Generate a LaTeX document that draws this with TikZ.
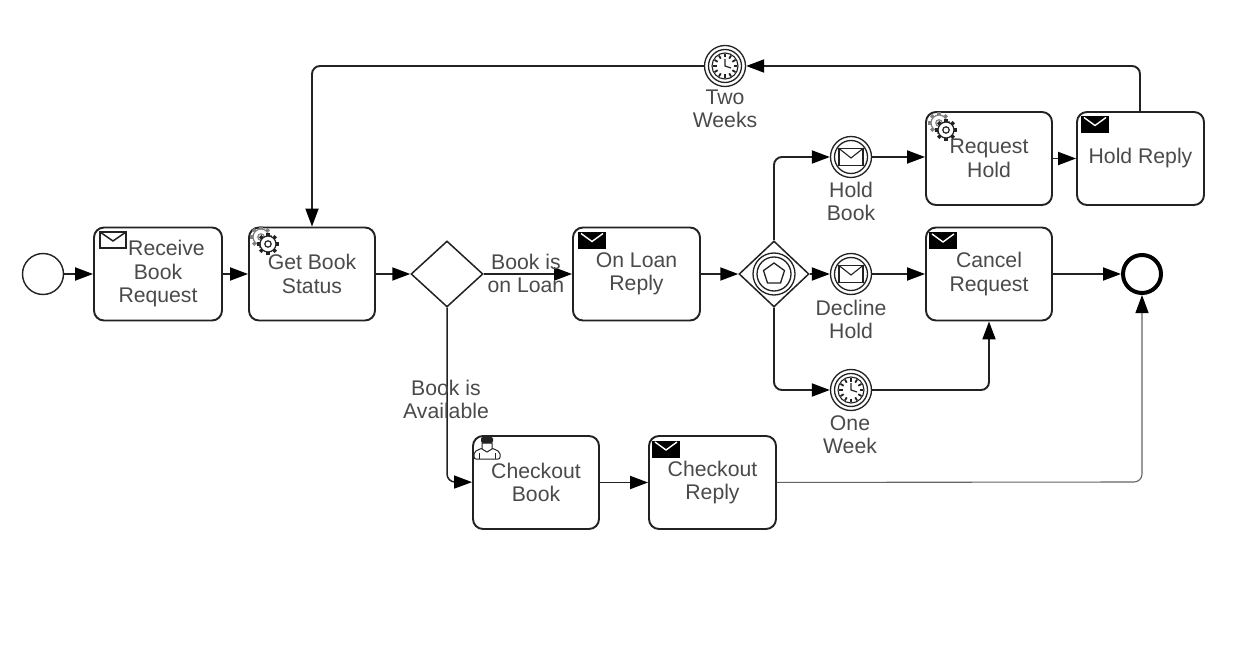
\documentclass[tikz,border=0pt]{standalone}
\usepackage{fontspec}
\setmainfont{Liberation Sans}
\usetikzlibrary{arrows.meta,shapes.geometric}
\definecolor{ink}{HTML}{222222}
\definecolor{txt}{HTML}{4A4A4A}
\tikzset{
  x=1pt,y=-1pt,
  task/.style={draw=ink,line width=1.9pt,rounded corners=10pt,fill=white,minimum width=126pt,minimum height=93pt,inner sep=0pt,align=center,text=txt,font=\fontsize{21.2}{23.5}\selectfont},
  lab/.style={text=txt,align=center,inner sep=0pt,font=\fontsize{21.2}{23.5}\selectfont},
  evt/.style={draw=ink,circle,line width=1.3pt,minimum size=41pt,inner sep=0pt,fill=white},
  gate/.style={draw=ink,diamond,line width=1.5pt,inner sep=0pt,fill=white,aspect=1},
  tip/.style={-{Triangle[length=18pt,width=13pt,color=black,fill=black]}},
  flow/.style={draw=ink,line width=1.9pt,rounded corners=8pt,tip},
  thinflow/.style={draw=ink!70,line width=1.1pt,rounded corners=8pt,tip},
  pics/envelope/.style={code={
    \draw[ink,line width=1.5pt,fill=#1] (-13,-8) rectangle (13,8);
    \draw[line width=1.5pt,draw=ink] (-13,-8) -- (0,1) -- (13,-8);}},
  pics/blackenvelope/.style={code={
    \fill[black] (-14,-8.5) rectangle (14,8.5);
    \draw[white,line width=1.4pt] (-11,-7) -- (0,1) -- (11,-7);}},
  pics/smallenvelope/.style={code={
    \draw[ink,line width=1.1pt] (-12,-8.5) rectangle (12,8.5);
    \draw[ink,line width=1.1pt] (-12,-8.5) -- (0,1) -- (12,-8.5);}},
  pics/cog/.style={code={
    \foreach \a in {0,45,...,315} {\draw[#1,line width=3.4pt] (\a:7.5) -- (\a:11);}
    \draw[#1,line width=1.2pt,fill=white] (0,0) circle (8);
    \draw[#1,line width=1.2pt] (0,0) circle (3.2);}},
  pics/gears/.style={code={
    \path (-7,-7) pic {cog=gray};
    \path (0,0) pic {cog=ink};}},
  pics/person/.style={code={
    \draw[ink,line width=1pt,fill=white,rounded corners=2pt] (-13,10) -- (-13,3) -- (-5,-1) -- (5,-1) -- (13,3) -- (13,10) -- cycle;
    \draw[ink,line width=.8pt] (-8,4) -- (-8,10) (8,4) -- (8,10);
    \draw[ink,line width=1pt,fill=white] (-5,-6) -- (-5,0) -- (0,3) -- (5,0) -- (5,-6) -- cycle;
    \fill[ink,rounded corners=2pt] (-6,-6) rectangle (6,-12);},},
  pics/clock/.style={code={
    \draw[ink,line width=1.1pt] (0,0) circle (13);
    \foreach \a in {0,30,...,330} {\draw[ink,line width=1.8pt] (\a:8.5) -- (\a:12);}
    \draw[ink,line width=1.2pt] (0,-7) -- (0,0) -- (6,2);}},
}
\begin{document}
\begin{tikzpicture}
\useasboundingbox (0,0) rectangle (1242,668);
\fill[white] (0,0) rectangle (1242,668);

% events
\node[evt,line width=1.4pt] (start) at (43,274) {};
\node[draw=black,circle,line width=4pt,minimum size=38pt,inner sep=0pt,fill=white] (end) at (1142,274) {};
\node[evt] (twoweeks) at (725,66) {};
\node[evt] (holdbook) at (851,157) {};
\node[evt] (declinehold) at (851,274) {};
\node[evt] (oneweek) at (851,390) {};
\foreach \n in {twoweeks,holdbook,declinehold,oneweek} {\draw[ink,line width=1.3pt] (\n.center) circle (16.5);}

% gateways
\node[gate,minimum width=72pt,minimum height=66pt] (gw) at (447,274) {};
\node[gate,minimum width=70pt,minimum height=66pt] (egw) at (774,274) {};
\draw[ink,line width=1.3pt] (egw.center) circle (21) (egw.center) circle (17);
\draw[ink,line width=1.3pt] (774,263) -- (784.5,270.6) -- (780.5,283) -- (767.5,283) -- (763.5,270.6) -- cycle;

% tasks
\node[task,minimum width=128pt] (receive) at (158,274) {\hspace{17pt}Receive\\Book\\Request};
\node[task] (getbook) at (312,274) {Get Book\\Status};
\node[task,minimum width=127pt] (onloan) at (636.5,274) {\raisebox{-1pt}{On Loan}\\\raisebox{-1pt}{Reply}};
\node[task] (reqhold) at (989,158.5) {Request\\Hold};
\node[task,minimum width=127pt] (holdreply) at (1140.5,158.5) {\raisebox{-1pt}{Hold Reply}};
\node[task] (cancel) at (989,274) {\raisebox{-1pt}{Cancel}\\\raisebox{-1pt}{Request}};
\node[task] (ckbook) at (536,482.5) {Checkout\\Book};
\node[task,minimum width=127pt] (ckreply) at (712.5,482.5) {Checkout\\Reply};

% labels
\node[lab] (ltwo) at (725,109) {Two\\Weeks};
\node[lab] (lhold) at (851,201.5) {Hold\\Book};
\node[lab] (ldecl) at (851,319.5) {Decline\\Hold};
\node[lab] (lone) at (850,434.5) {One\\Week};

% connector corner helpers
\coordinate (c1) at (312,66);
\coordinate (c2) at (1140,66);
\coordinate (c3) at (447,482);
\coordinate (c4) at (774,157);
\coordinate (c5) at (774,390);
\coordinate (c6) at (989,390);
\coordinate (c7) at (1142,482);
\coordinate (hrtop) at (1140,112);

% connectors
\draw[flow] (start) -- (receive);
\draw[flow] (receive) -- (getbook);
\draw[flow] (getbook) -- (gw);
\draw[flow] (gw) -- (onloan);
\draw[flow] (onloan) -- (egw);
\draw[flow] (egw) -- (declinehold);
\draw[flow] (declinehold) -- (cancel);
\draw[flow] (cancel) -- (end);
\draw[flow] (holdbook) -- (holdbook-|reqhold.west);
\draw[flow] (reqhold.east|-holdreply) -- (holdreply);
\draw[flow] (egw.north) -- (c4) -- (holdbook);
\draw[flow] (egw.south) -- (c5) -- (oneweek);
\draw[flow] (oneweek) -- (c6) -- (cancel.south-|c6);
\draw[flow] (hrtop) -- (c2) -- (twoweeks);
\draw[flow] (twoweeks) -- (c1) -- (getbook.north);
\draw[flow,line width=1.5pt] (gw.south) -- (c3) -- (ckbook);
\draw[flow] (ckbook) -- (ckreply);
\draw[thinflow] (ckreply) -- (c7) -- (end);

% path labels (text sits over the lines)
\node[lab] (lloan) at (526,273.5) {Book is\\on Loan};
\node[lab] (lavail) at (446,399.5) {Book is\\Available};

% icons
\path (113,240) pic {envelope=white};
\path (592,240.5) pic {blackenvelope};
\path (943,241) pic {blackenvelope};
\path (1095,124.5) pic {blackenvelope};
\path (666,449) pic {blackenvelope};
\path (268,244) pic {gears};
\path (946,130) pic {gears};
\path (487,449) pic {person};
\path (holdbook.center) pic {smallenvelope};
\path (declinehold.center) pic {smallenvelope};
\path (twoweeks.center) pic {clock};
\path (oneweek.center) pic {clock};
\end{tikzpicture}
\end{document}
